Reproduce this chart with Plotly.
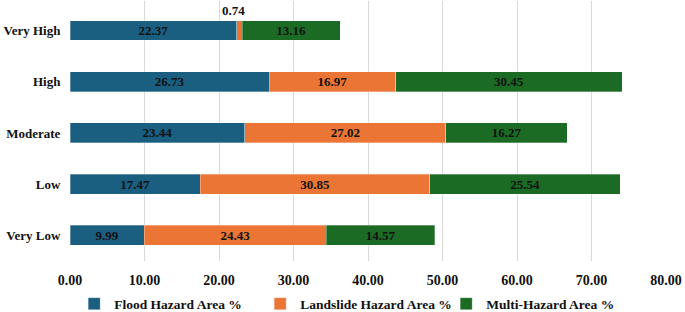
import plotly.graph_objects as go

categories = ["Very Low", "Low", "Moderate", "High", "Very High"]
flood = [9.99, 17.47, 23.44, 26.73, 22.37]
landslide = [24.43, 30.85, 27.02, 16.97, 0.74]
multi = [14.57, 25.54, 16.27, 30.45, 13.16]
x_ticks = [0, 10, 20, 30, 40, 50, 60, 70, 80]

FONT = "Liberation Serif"
series = [
    ("Flood Hazard Area %", flood, "#1A5E80"),
    ("Landslide Hazard Area %", landslide, "#EA7535"),
    ("Multi-Hazard Area %", multi, "#1B6B25"),
]

fig = go.Figure()
for name, vals, color in series:
    fig.add_trace(go.Bar(
        y=categories, x=vals, name=f"<b>{name}</b>", orientation="h",
        marker=dict(color=color, line=dict(color="rgba(255,255,255,0.5)", width=0.6)),
        text=[f"<b>{v:.2f}</b>" if v >= 3 else "" for v in vals],
        textposition="inside", insidetextanchor="middle",
        textfont=dict(family=FONT, size=13, color="#111111"),
        constraintext="none",
    ))

# small segment label above the bar
for i, v in enumerate(landslide):
    if v < 3:
        fig.add_annotation(x=flood[i] + v / 2, y=categories[i], text=f"<b>{v:.2f}</b>",
                           showarrow=False, yshift=20, xshift=-6,
                           font=dict(family=FONT, size=13, color="#111111"))

fig.update_layout(
    barmode="stack",
    width=685, height=312,
    margin=dict(l=70, r=19, t=1, b=51, autoexpand=False),
    paper_bgcolor="white", plot_bgcolor="white",
    bargap=0.61,
    font=dict(family=FONT, size=13, color="#111111"),
    uniformtext=dict(minsize=8, mode="show"),
    legend=dict(orientation="h", x=0.007, xanchor="left", y=-0.165, yanchor="middle",
                font=dict(family=FONT, size=13.5, color="#111111"),
                itemwidth=30, traceorder="normal",
                entrywidth=141, entrywidthmode="pixels"),
    showlegend=True,
)
fig.update_xaxes(range=[0, 80], tickvals=x_ticks, ticktext=[f"<b>{t:.2f}</b>" for t in x_ticks],
                 showgrid=True, gridcolor="#D9D9D9", gridwidth=1, zeroline=False,
                 showline=False, ticks="outside", ticklen=6, tickcolor="rgba(0,0,0,0)",
                 automargin=False,
                 tickfont=dict(family=FONT, size=14, color="#111111"))
fig.update_yaxes(categoryorder="array", categoryarray=categories,
                 tickvals=categories, ticktext=[f"<b>{c}</b>" for c in categories],
                 showgrid=False, showline=False, ticks="outside", ticklen=6,
                 tickcolor="rgba(0,0,0,0)", automargin=False,
                 tickfont=dict(family=FONT, size=13, color="#111111"))

fig.write_html("out.html", config={"displayModeBar": False},
               post_script="document.body.style.margin='0';")
